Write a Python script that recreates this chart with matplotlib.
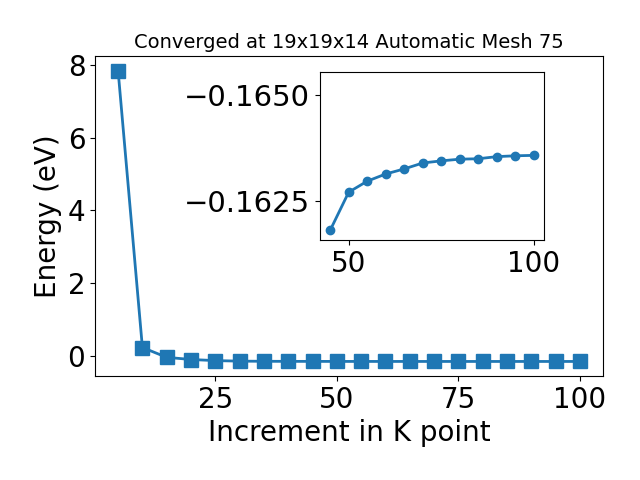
import numpy as np
import matplotlib
matplotlib.use('Agg')
import matplotlib.pyplot as plt

# k-point increments and energies (eV)
kpoints = [5, 10, 15, 20, 25, 30, 35, 40, 45, 50, 55, 60, 65, 70, 75, 80, 85, 90, 95, 100]
energy = [7.85, 0.22, -0.05, -0.11, -0.14, -0.155, -0.159, -0.161,
          -0.16181, -0.16271, -0.16297, -0.16314, -0.16326, -0.16340,
          -0.16345, -0.16349, -0.16350, -0.16355, -0.16357, -0.16358]

# zoomed part shown in the inset
k_zoom = kpoints[8:]
e_zoom = energy[8:]

fig = plt.figure(figsize=(6.4, 4.8), dpi=100)
ax = fig.add_axes([95/640, 1-376/480, 508/640, 320/480])
ax.plot(kpoints, energy, marker='s', markersize=10, linewidth=2, color='tab:blue')
ax.set_xlabel('Increment in K point', fontsize=20)
ax.set_ylabel('Energy (eV)', fontsize=20)
ax.set_title('Converged at 19x19x14 Automatic Mesh 75', fontsize=14)
ax.tick_params(labelsize=20)
ax.set_xticks([25, 50, 75, 100])

ins = fig.add_axes([320/640, 1-240/480, 224/640, 168/480])
ins.plot(k_zoom, e_zoom, marker='o', markersize=6, linewidth=2, color='tab:blue')
ins.set_ylim(-0.16158, -0.16555)
ins.set_yticks([-0.1650, -0.1625])
ins.set_xticks([50, 100])
ins.tick_params(axis='x', labelsize=20)
ins.tick_params(axis='y', labelsize=21)

plt.savefig('out.png', dpi=100)
